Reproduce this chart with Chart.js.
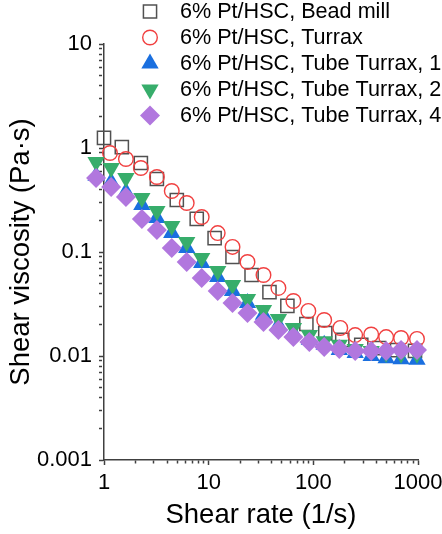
<!DOCTYPE html>
<html>
<head>
<meta charset="utf-8">
<script src="https://cdn.jsdelivr.net/npm/chart.js@4/dist/chart.umd.min.js"></script>
<style>
  html, body { margin: 0; padding: 0; background: #fff; overflow: hidden; width: 442px; height: 534px; }
  #wrap { width: 460px; height: 534px; }
  canvas { display: block; }
</style>
</head>
<body>
<div id="wrap"><canvas id="c" width="460" height="534"></canvas></div>
<script>
// ---- data ----
const seriesNames = [
  '6% Pt/HSC, Bead mill',
  '6% Pt/HSC, Turrax',
  '6% Pt/HSC, Tube Turrax, 1',
  '6% Pt/HSC, Tube Turrax, 2',
  '6% Pt/HSC, Tube Turrax, 4'
];

const beadMillRate = [1.00, 1.48, 2.25, 3.20, 4.96, 7.69, 11.4, 16.9, 25.7, 38.1, 56.5, 85.8, 130, 189, 287, 425, 631, 936];
const beadMillViscosity = [1.25, 1.02, 0.717, 0.503, 0.316, 0.208, 0.136, 0.0896, 0.0601, 0.0412, 0.0303, 0.0203, 0.0166, 0.0143, 0.0128, 0.0119, 0.0114, 0.0112];

const turraxRate = [1.14, 1.62, 2.25, 3.20, 4.44, 6.17, 8.58, 12.2, 16.9, 23.5, 33.4, 46.4, 64.5, 89.6, 127, 181, 251, 357, 496, 689, 978];
const turraxViscosity = [0.895, 0.784, 0.642, 0.526, 0.386, 0.296, 0.217, 0.152, 0.112, 0.0801, 0.0601, 0.0451, 0.0338, 0.0271, 0.0222, 0.0186, 0.0159, 0.0161, 0.0152, 0.0149, 0.0146];

const tubeTurraxRate = [0.84, 1.17, 1.62, 2.30, 3.20, 4.44, 6.17, 8.58, 12.2, 16.9, 23.5, 33.4, 46.4, 64.5, 91.6, 127, 177, 251, 357, 496, 689, 978];
const tubeTurrax1Viscosity = [0.54, 0.47, 0.377, 0.283, 0.212, 0.152, 0.109, 0.0784, 0.0574, 0.0422, 0.0323, 0.0249, 0.0198, 0.0166, 0.0143, 0.0128, 0.0114, 0.0107, 0.0100, 0.0095, 0.0093, 0.0092];
const tubeTurrax2Viscosity = [0.733, 0.642, 0.515, 0.330, 0.248, 0.178, 0.125, 0.0876, 0.0657, 0.0482, 0.0353, 0.0277, 0.0227, 0.0186, 0.0159, 0.0139, 0.0128, 0.0117, 0.0112, 0.0107, 0.0105, 0.0105];
const tubeTurrax4Viscosity = [0.515, 0.422, 0.338, 0.208, 0.163, 0.109, 0.0801, 0.0562, 0.0422, 0.0323, 0.0259, 0.0212, 0.0178, 0.0152, 0.0136, 0.0122, 0.0117, 0.0112, 0.0112, 0.0112, 0.0114, 0.0114];

const xTickValues = [1, 10, 100, 1000];
const xTickLabels = ['1', '10', '100', '1000'];
const yTickValues = [0.001, 0.01, 0.1, 1, 10];
const yTickLabels = ['0.001', '0.01', '0.1', '1', '10'];

// ---- styling ----
const FONT = '"Liberation Sans", Arial, Helvetica, sans-serif';
const AXIS_COLOR = '#404040';
const colors = ['#515151', '#F14040', '#1A6FDF', '#37AD6B', '#B177DE'];

function toPoints(xs, ys) { return xs.map((x, i) => ({ x: x, y: ys[i] })); }

function logTicks(majors) {
  const out = [];
  for (let i = 0; i < majors.length; i++) {
    out.push({ value: majors[i], major: true });
    if (i < majors.length - 1) {
      for (let k = 2; k <= 9; k++) out.push({ value: +(majors[i] * k).toPrecision(6), major: false });
    }
  }
  return out;
}
function labelFor(v, vals, labels) {
  for (let i = 0; i < vals.length; i++) {
    if (Math.abs(v - vals[i]) / vals[i] < 1e-6) return labels[i];
  }
  return '';
}
function isMajorVal(v, vals) {
  return vals.some(m => Math.abs(v - m) / m < 1e-6);
}

const styles = [
  { pointStyle: 'rect', radius: 9.3, rotation: 0, fill: false, borderWidth: 1.5 },
  { pointStyle: 'circle', radius: 7.3, rotation: 0, fill: false, borderWidth: 1.4 },
  { pointStyle: 'triangle', radius: 10, rotation: 0, fill: true, borderWidth: 0 },
  { pointStyle: 'triangle', radius: 10, rotation: 180, fill: true, borderWidth: 0 },
  { pointStyle: 'rectRot', radius: 10, rotation: 0, fill: true, borderWidth: 0 }
];

const rawSeries = [
  toPoints(beadMillRate, beadMillViscosity),
  toPoints(turraxRate, turraxViscosity),
  toPoints(tubeTurraxRate, tubeTurrax1Viscosity),
  toPoints(tubeTurraxRate, tubeTurrax2Viscosity),
  toPoints(tubeTurraxRate, tubeTurrax4Viscosity)
];

const datasets = rawSeries.map((pts, i) => ({
  label: seriesNames[i],
  data: pts,
  showLine: false,
  clip: false,
  order: 5 - i,
  pointStyle: styles[i].pointStyle,
  pointRadius: styles[i].radius,
  pointHoverRadius: styles[i].radius,
  pointRotation: styles[i].rotation,
  pointBorderWidth: styles[i].borderWidth,
  pointBorderColor: colors[i],
  pointBackgroundColor: styles[i].fill ? colors[i] : 'rgba(0,0,0,0)',
  borderColor: colors[i],
  backgroundColor: styles[i].fill ? colors[i] : 'rgba(0,0,0,0)'
}));

const legendPlugin = {
  id: 'insideLegend',
  afterDraw(chart) {
    const ctx = chart.ctx;
    const symX = 150, textX = 180, startY = 11.5, pitch = 26;
    ctx.save();
    ctx.font = '21.6px ' + FONT;
    ctx.textBaseline = 'middle';
    ctx.textAlign = 'left';
    chart.data.datasets.forEach((ds, i) => {
      const y = startY + i * pitch;
      const st = styles[i];
      ctx.fillStyle = st.fill ? colors[i] : 'rgba(0,0,0,0)';
      ctx.strokeStyle = colors[i];
      ctx.lineWidth = st.borderWidth;
      Chart.helpers.drawPoint(ctx, {
        pointStyle: st.pointStyle, radius: st.radius, rotation: st.rotation, borderWidth: st.borderWidth
      }, symX, y);
      ctx.fillStyle = '#000';
      ctx.fillText(ds.label, textX, y + 1);
    });
    ctx.restore();
  }
};

new Chart(document.getElementById('c'), {
  type: 'scatter',
  data: { datasets },
  options: {
    responsive: false,
    animation: false,
    events: [],
    layout: { padding: { top: 44, right: 42, bottom: 0, left: 0 } },
    plugins: { legend: { display: false }, tooltip: { enabled: false } },
    scales: {
      x: {
        type: 'logarithmic',
        position: 'bottom',
        min: 1, max: 1000,
        afterBuildTicks: s => { s.ticks = logTicks(xTickValues); },
        afterFit: s => { s.height = 74; },
        ticks: {
          autoSkip: false, maxRotation: 0, minRotation: 0, padding: 5,
          color: '#000', font: { family: FONT, size: 22 },
          callback: v => labelFor(v, xTickValues, xTickLabels)
        },
        grid: {
          drawOnChartArea: false, drawTicks: true, tickLength: 5, tickWidth: 1.5, tickColor: AXIS_COLOR,
          tickBorderDash: c => (c.tick && isMajorVal(c.tick.value, xTickValues)) ? [] : [3, 30]
        },
        border: { display: true, color: AXIS_COLOR, width: 1.5 },
        title: {
          display: true, text: 'Shear rate (1/s)', color: '#000',
          font: { family: FONT, size: 27.5, lineHeight: 1 }, padding: { top: 0, bottom: 5 }
        }
      },
      y: {
        type: 'logarithmic',
        position: 'left',
        min: 0.001, max: 10,
        afterBuildTicks: s => { s.ticks = logTicks(yTickValues); },
        afterFit: s => { s.width = 104; },
        ticks: {
          autoSkip: false, padding: 7,
          color: '#000', font: { family: FONT, size: 22 },
          callback: v => labelFor(v, yTickValues, yTickLabels)
        },
        grid: {
          drawOnChartArea: false, drawTicks: true, tickLength: 5, tickWidth: 1.5, tickColor: AXIS_COLOR,
          tickBorderDash: c => (c.tick && isMajorVal(c.tick.value, yTickValues)) ? [] : [3, 30]
        },
        border: { display: true, color: AXIS_COLOR, width: 1.5 },
        title: {
          display: true, text: 'Shear viscosity (Pa·s)', color: '#000',
          font: { family: FONT, size: 27.5, lineHeight: 1 }, padding: { top: 8, bottom: 0 }
        }
      }
    }
  },
  plugins: [legendPlugin]
});
</script>
</body>
</html>
